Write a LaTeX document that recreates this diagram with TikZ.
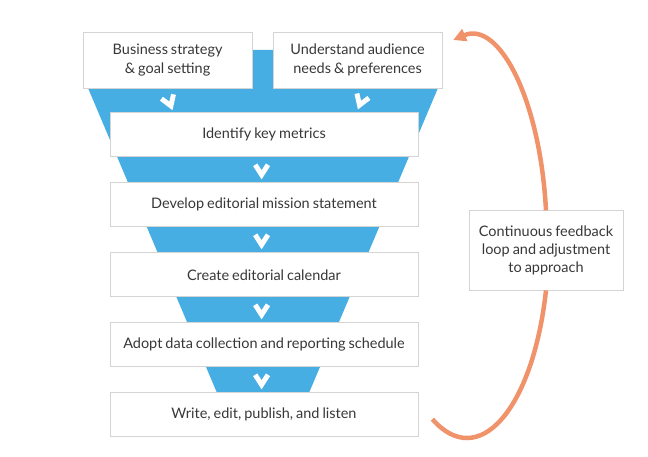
\documentclass[tikz,border=0pt]{standalone}
\usepackage{fontspec}
\setmainfont{Lato}[WordSpace=0.8]
\usetikzlibrary{arrows.meta,calc}
\definecolor{funnelblue}{HTML}{47AEE4}
\definecolor{loopred}{HTML}{F0936A}
\definecolor{boxgrey}{HTML}{D4D4D4}
\definecolor{textgrey}{HTML}{383838}
\begin{document}
\begin{tikzpicture}[
  box/.style={draw=boxgrey, fill=white, line width=0.6pt, text=textgrey, align=center,
    font=\fontsize{10.3}{13}\selectfont, inner sep=0pt},
  stepbox/.style={box, minimum width=7.7cm, minimum height=1.1cm},
  topbox/.style={box, minimum width=4.22cm, minimum height=1.4cm},
  chev/.style={white, line width=3.5pt},
  looparc/.style={loopred, line width=3.2pt}
]
\useasboundingbox (0,0) rectangle (16.2,11.4);
\fill[funnelblue] (2.1,10.15) -- (11.02,10.15) -- (10.95,9.2) -- (7.65,1.4) -- (5.5,1.4) -- (2.2,9.2) -- cycle;

\node[topbox] (b1) at (4.19,9.9) {Business strategy\\\& goal setting};
\node[topbox] (b2) at (8.94,9.9) {Understand audience\\needs \& preferences};
\node[stepbox] (m1) at (6.6,8.03) {Identify key metrics};
\node[stepbox] (m2) at (6.6,6.28) {Develop editorial mission statement};
\node[stepbox] (m3) at (6.6,4.53) {Create editorial calendar};
\node[stepbox] (m4) at (6.6,2.78) {Adopt data collection and reporting schedule};
\node[stepbox] (m5) at (6.6,1.03) {Write, edit, publish, and listen};
\node[box, minimum width=3.85cm, minimum height=1.98cm] (fb) at (13.65,5.14)
  {Continuous feedback\\loop and adjustment\\to approach};

\coordinate (vl) at ($(b1.south)+(0.04,-0.32)$);
\coordinate (vr) at ($(b2.south)+(0.09,-0.3)$);
\foreach \a/\b in {1/2,2/3,3/4,4/5}
  \coordinate (v\a) at ($(m\a.south)!.5!(m\b.north)+(-0.06,0)$);
\foreach \p/\r in {vl/20,vr/-20,v1/0,v2/0,v3/0,v4/0}
  \draw[chev, shift={(\p)}, rotate=\r] (-0.16,0.125) -- (0,-0.125) -- (0.16,0.125);

\coordinate (loopend) at (10.81,0.92);
\coordinate (looptip) at (11.33,10.40);
\draw[looparc] (loopend) .. controls (11.96,-0.39) and (13.32,1.15) .. (fb.south);
\draw[looparc, -{Triangle[length=9pt,width=9pt]}] (fb.north) .. controls (13.50,8.94) and (12.47,10.89) .. (looptip);
\end{tikzpicture}
\end{document}
